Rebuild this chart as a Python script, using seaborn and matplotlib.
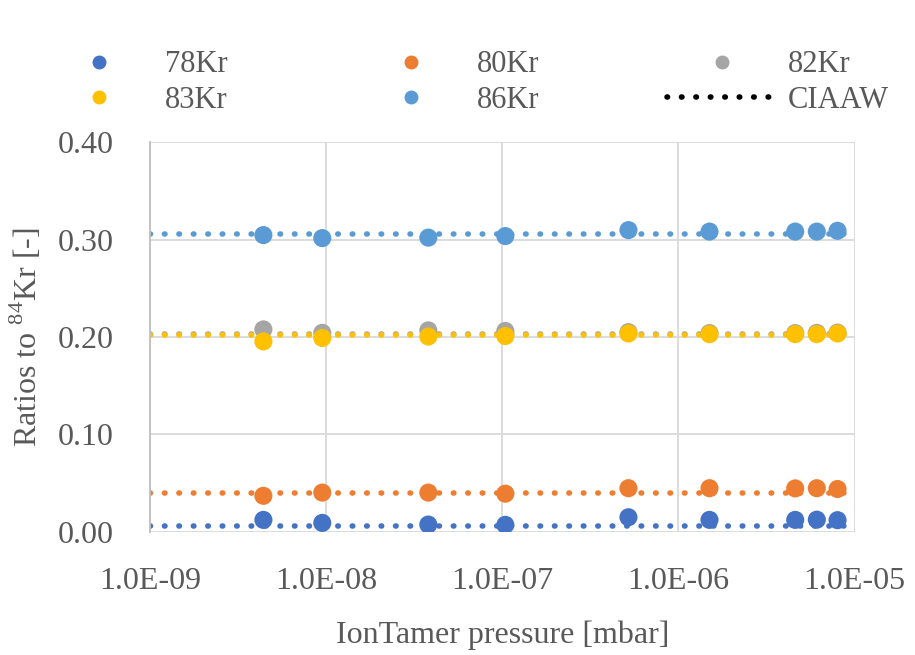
import pandas as pd
import seaborn as sns
import numpy as np
import matplotlib.pyplot as plt
from matplotlib.lines import Line2D

# IonTamer pressure [mbar] of each measurement
pressure = [4.4e-9, 9.5e-9, 3.8e-8, 1.04e-7, 5.2e-7, 1.5e-6, 4.6e-6, 6.1e-6, 8.0e-6]

# measured ratios to 84Kr
kr78 = [0.0123, 0.0092, 0.0075, 0.0072, 0.0150, 0.0123, 0.0123, 0.0125, 0.0120]
kr80 = [0.0370, 0.0403, 0.0403, 0.0392, 0.0448, 0.0448, 0.0446, 0.0448, 0.0440]
kr82 = [0.2078, 0.2043, 0.2068, 0.2062, 0.2050, 0.2040, 0.2040, 0.2042, 0.2045]
kr83 = [0.1955, 0.1990, 0.2005, 0.2010, 0.2036, 0.2029, 0.2029, 0.2029, 0.2036]
kr86 = [0.3046, 0.3015, 0.3020, 0.3036, 0.3097, 0.3082, 0.3082, 0.3082, 0.3090]

isotopes = ["78Kr", "80Kr", "82Kr", "83Kr", "86Kr"]
ciaaw = [0.0062, 0.0403, 0.2034, 0.2018, 0.3052]
colors = ["#4472C4", "#ED7D31", "#A5A5A5", "#FFC000", "#5B9BD5"]

df = pd.DataFrame({
    "pressure": pressure * 5,
    "ratio": kr78 + kr80 + kr82 + kr83 + kr86,
    "isotope": np.repeat(isotopes, len(pressure)),
})

sns.set_style("whitegrid")
plt.rcParams['font.family'] = ['Liberation Serif', 'DejaVu Serif']
plt.rcParams['mathtext.fontset'] = 'custom'
plt.rcParams['mathtext.rm'] = 'Liberation Serif'

fig = plt.figure(figsize=(9.15, 6.55), dpi=100)
ax = fig.add_axes([0.164, 0.188, 0.770, 0.595])

# CIAAW reference lines
for val, col in zip(ciaaw, colors):
    ax.axhline(val, color=col, lw=4, linestyle=(0, (0.1, 2.5)),
               dash_capstyle="round", zorder=2)

sns.scatterplot(data=df, x="pressure", y="ratio", hue="isotope",
                hue_order=isotopes, palette=colors, s=170,
                edgecolor="none", ax=ax, legend=False, zorder=3)

ax.set_xscale("log")
ax.set_xlim(1e-9, 1e-5)
ax.set_ylim(0, 0.40)
ax.set_xticks([1e-9, 1e-8, 1e-7, 1e-6, 1e-5])
ax.set_xticklabels(["1.0E-09", "1.0E-08", "1.0E-07", "1.0E-06", "1.0E-05"])
ax.set_yticks([0, 0.1, 0.2, 0.3, 0.4])
ax.set_yticklabels(["0.00", "0.10", "0.20", "0.30", "0.40"])
ax.minorticks_off()
ax.grid(True, color="#D9D9D9", lw=1.3)
for s in ax.spines.values():
    s.set_visible(False)
ax.spines["left"].set_visible(True)
ax.spines["left"].set_color("#BFBFBF")
ax.spines["left"].set_linewidth(1.3)
ax.tick_params(axis="both", labelsize=23, colors="#595959", length=0)
ax.tick_params(axis="x", pad=25)
ax.tick_params(axis="y", pad=26)
ax.set_xlabel("IonTamer pressure [mbar]", fontsize=23, color="#595959", labelpad=18)
ax.set_ylabel("Ratios to $^{84}$Kr [-]", fontsize=23, color="#595959", labelpad=10)

handles = {}
for iso, col in zip(isotopes, colors):
    handles[iso] = Line2D([], [], marker="o", ls="none", color=col, markersize=9)
handles["CIAAW"] = Line2D([], [], color="black", lw=4, linestyle=(0, (0.1, 2.5)),
                          dash_capstyle="round")
order = ["78Kr", "83Kr", "80Kr", "86Kr", "82Kr", "CIAAW"]
fig.legend([handles[k] for k in order], order, loc="upper center",
           bbox_to_anchor=(0.51, 0.965), ncol=3, frameon=False, fontsize=22,
           handlelength=3.6, handletextpad=0.35, columnspacing=4.2,
           labelspacing=0.2, labelcolor="#595959")

fig.savefig("out.png", dpi=100)
